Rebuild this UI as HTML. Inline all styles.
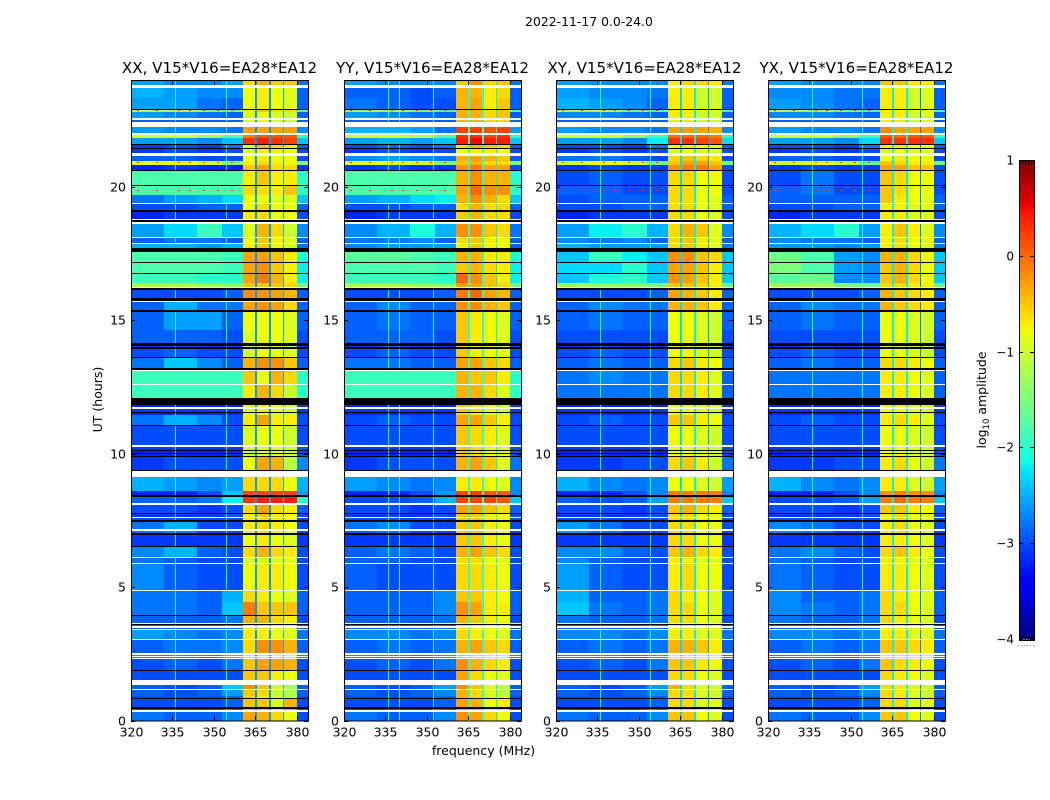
<!DOCTYPE html>
<html lang="en">
<head>
<meta charset="utf-8">
<title>2022-11-17 spectrogram</title>
<style>
html,body{margin:0;padding:0;background:#fff;}
svg{display:block;font-family:"DejaVu Sans","Liberation Sans",sans-serif;fill:#000;}
</style>
</head>
<body>
<svg id="chart" xmlns="http://www.w3.org/2000/svg" width="1050" height="800" viewBox="0 0 1050 800">
<text x="589" y="26" font-size="12.400" text-anchor="middle">2022-11-17 0.0-24.0</text>
<text x="483.500" y="755" font-size="12.500" text-anchor="middle">frequency (MHz)</text>
<text x="0" y="0" transform="translate(102,399.500) rotate(-90)" font-size="12.500" text-anchor="middle">UT (hours)</text>
<text x="0" y="0" transform="translate(986,400) rotate(-90)" font-size="12.500" text-anchor="middle">log<tspan font-size="8.500" dy="3">10</tspan><tspan dy="-3"> amplitude</tspan></text>
<g id="plots"></g>
<g id="cbar"></g>
</svg>
<script>
const panelTitles = ["XX, V15*V16=EA28*EA12","YY, V15*V16=EA28*EA12","XY, V15*V16=EA28*EA12","YX, V15*V16=EA28*EA12"];
const freqTicks = [320,335,350,365,380];
const utTicks = [0,5,10,15,20];
const cbarTicks = [1,0,-1,-2,-3,-4];
const freqEdges = [320,332,344,353,360.5,365,365.5,370,370.5,375,375.5,380,384];
const utEdges = [24,23.81,23.71,23.32,22.93,22.89,22.81,22.57,22.5,22.43,22.25,22.01,21.95,21.83,21.6,21.55,21.45,21.4,21.27,21.15,20.98,20.83,20.63,20.58,20.05,20.01,19.69,19.4,19.35,19.12,19.04,18.81,18.75,18.67,18.62,18.12,18.07,17.91,17.86,17.7,17.57,17.19,17.15,16.78,16.74,16.38,16.25,16.2,16.13,15.82,15.72,15.68,15.38,15.3,14.63,14.13,14.05,13.99,13.91,13.63,13.58,13.19,13.15,13.11,12.6,12.56,12.07,11.82,11.73,11.68,11.57,11.53,11.46,11.43,11.07,11.03,10.32,10.25,10.13,10.09,10.04,10,9.92,9.89,9.39,9.35,9.13,8.6,8.45,8.39,8.14,8.09,7.79,7.74,7.62,7.59,7.51,7.44,7.16,7.11,7.01,6.96,6.55,6.5,6.12,6.08,5.9,5.86,4.89,4.86,4.44,3.95,3.92,3.66,3.62,3.58,3.53,3.48,3.44,3.39,3.04,3,2.52,2.47,2.43,2.39,2.36,2.32,1.9,1.85,1.52,1.33,1.18,1.15,.93,.9,.83,.8,.5,.44,.4,.31,0];
const rowFlags = "dwddkddwdwdwddkdkdwdddkdkddwdkdwkwdwdwdkdkdkddwkdkwdkddkdkdkdkwdwdkdwdkdkdkdwdkdkdkdkwddkdwdkdwdkdwdkdkdwdwdwddkdwkdwdwdwdwdwdwdkdwdwdwdkdkdwd";
const xxValues = [
[-2.6,-2.7,-2.7,-2.6,-.6,-.4,-.5,-.5,-2.8],[-2.5,-2.6,-2.7,-2.7,-.8,-.7,-.8,-.9,-2.9],[-2.6,-2.6,-2.8,-2.9,-.8,-.7,-.8,-.9,-2.9],[-1.2,-1.2,-1.5,-1.6,-.7,-.5,-.6,-.6,-1.8],[-2.6,-2.7,-2.8,-2.9,-.9,-.8,-.9,-1,-2.9],
[-2.9,-2.9,-2.9,-2.9,-.9,-.8,-.9,-1,-2.9],[-2.6,-2.7,-2.7,-2.8,-.3,-.3,-.3,-.3,-2.7],[-1,-1,-1.3,-1.8,-.1,.1,.1,.1,-2],[-2.6,-2.6,-2.7,-2.4,.3,.4,.3,.2,-2.4],[-3.1,-3,-3.1,-2.8,-.8,-.5,-.6,-.7,-2.9],
[-3.1,-3,-3.1,-3,-.9,-.7,-.7,-.8,-3],[-2.9,-2.9,-3,-3,-.8,-.7,-.8,-.8,-3],[-.9,-.8,-1,-1.5,-.7,-.6,-.7,-.8,-1.5],[-3.2,-3.1,-3.2,-3.2,-.5,-.3,-.6,-.6,-3.1],[-1.8,-1.8,-1.8,-1.8,-.7,-.5,-.7,-.7,-2],
[-1.8,-1.8,-1.8,-1.8,-.6,-.6,-.7,-.5,-2],[-2.8,-2.6,-2.5,-2.3,-.8,-.8,-.9,-.9,-2.4],[-3,-3,-2.9,-2.9,-.8,-.6,-.8,-.8,-2.9],[-3.2,-3.1,-3.1,-3.1,-.7,-.6,-.8,-.8,-3],[-2.6,-2.3,-1.9,-2.4,-.9,-.4,-.6,-1,-2.7],
[-2.9,-2.8,-2.8,-2.9,-.8,-.5,-.7,-.9,-2.9],[-2.5,-2.5,-2.6,-2.5,-.7,-.5,-.7,-.9,-2.8],[-1.8,-1.8,-1.8,-1.9,-.3,-.3,-.5,-.7,-2.1],[-1.8,-1.8,-1.8,-1.9,-.3,-.2,-.5,-.7,-2.2],[-1.9,-1.9,-2,-2,-.3,-.1,-.4,-.7,-2.2],
[-1.2,-1.2,-1.3,-1.4,-.5,-.5,-.5,-.6,-1.6],[-3,-3,-3,-2.9,-.2,-.2,-.3,-.4,-2.9],[-2.9,-2.5,-2.8,-2.8,-.3,-.2,-.3,-.6,-2.9],[-2.9,-2.6,-2.6,-2.9,-.8,-.8,-.8,-.9,-2.9],[-2.9,-2.9,-2.9,-3,-.9,-.8,-.8,-.9,-3],
[-3.1,-3,-3.1,-3.1,-.9,-.8,-.9,-.9,-3],[-3,-2.9,-3,-3,-.9,-.8,-.8,-.9,-3],[-2.8,-2.4,-2.7,-2.9,-.4,-.2,-.2,-.5,-2.9],[-1.9,-1.9,-1.9,-1.9,-.5,-.8,-.4,-.6,-2],[-1.9,-1.9,-1.9,-1.9,-.7,-.4,-.6,-1,-2],
[-3.2,-3.2,-3.2,-3.2,-.9,-.7,-.8,-1,-3.1],[-3.1,-3.1,-3.1,-3.1,-.9,-.7,-.8,-1,-3.1],[-3.2,-3.2,-3.2,-3.2,-.9,-.8,-.9,-1,-3.1],[-2.8,-2.5,-2.7,-3,-.7,-.3,-.7,-.7,-3],[-3,-3,-3,-3,-.9,-.8,-.8,-1,-3],
[-3.1,-3.1,-3.1,-3.1,-1,-.9,-.9,-1,-3],[-3.2,-3.2,-3.2,-3.2,-1,-.9,-.9,-1,-3],[-3.2,-3.2,-3.2,-3.2,-1,-.9,-.9,-1,-3],[-3.1,-3,-3,-3,-.8,-.3,-.4,-1.1,-2.7],[-2.5,-2.6,-2.7,-2.6,-.6,-.6,-.6,-.8,-2.5],
[-3.2,-3.2,-3,-2.4,.2,.2,.2,.2,-2.6],[-2.9,-2.9,-2.8,-2.2,.3,.4,.4,.4,-2],[-3,-3,-3.1,-3,-.6,-.3,-.6,-.7,-2.9],[-3.1,-3.1,-3.1,-3,-.7,-.5,-.7,-.8,-3],[-3,-3,-3,-3,-.7,-.6,-.7,-.8,-3],
[-2.8,-2.5,-3,-3,-.7,-.6,-.7,-.8,-3],[-2.8,-2.7,-3,-3,-.7,-.6,-.7,-.8,-3],[-3.1,-3.1,-3.1,-3.1,-.8,-.7,-.8,-.9,-3.1],[-2.7,-2.5,-2.9,-3,-.6,-.4,-.6,-.7,-3],[-2.8,-2.9,-3,-3,-.9,-.9,-.9,-.9,-3],
[-2.7,-2.9,-3,-3,-.8,-.7,-.7,-.8,-3],[-2.8,-2.8,-2.9,-2.5,-.6,-.7,-.8,-.9,-2.9],[-2.8,-2.8,-2.9,-2.4,-.1,-.5,-.5,-.5,-2.9],[-2.9,-2.9,-2.9,-2.8,-.4,-.4,-.6,-.7,-3],[-2.9,-2.9,-2.9,-2.8,-.7,-.7,-.8,-.9,-3],
[-2.9,-2.9,-2.9,-2.9,-.7,-.7,-.8,-.9,-3],[-2.6,-2.7,-2.8,-2.7,-.7,-.7,-.8,-.9,-2.8],[-2.9,-2.8,-2.8,-2.7,-.6,-.2,-.2,-.4,-2.9],[-2.7,-2.7,-2.8,-2.4,-.7,-.7,-.8,-.9,-2.7],[-2.7,-2.7,-2.8,-2.4,-.7,-.7,-.8,-.9,-2.7],
[-3,-2.9,-3,-2.8,-.5,-.3,-.3,-.4,-3],[-3,-3,-3,-3,-.5,-.5,-.7,-.8,-3],[-2.9,-3,-2.9,-2.4,-.2,-.5,-1,-1.2,-2.9],[-2.9,-3,-2.9,-2.6,-.5,-.6,-1,-1.2,-2.9],[-3,-3,-3,-2.9,-.6,-.7,-1,-1.1,-3],
[-3,-3,-3,-2.9,-.5,-.5,-.9,-.4,-3],[-3,-3,-3,-2.8,-.5,-.5,-.9,-.3,-3],[-2.8,-2.9,-2.9,-2.7,-.3,-.4,-.6,-.8,-3]];
const yyValues = [
[-2.6,-2.7,-2.7,-2.7,-.5,-.2,-.6,-.5,-2.8],[-2.9,-2.9,-3,-2.9,-.4,-.4,-.7,-.6,-2.9],[-2.8,-2.9,-3,-3,-.4,-.3,-.7,-.5,-2.9],[-1.3,-1.3,-1.5,-1.8,-.4,-.4,-.6,-.5,-1.9],[-2.6,-2.7,-2.8,-2.9,-.4,-.4,-.6,-.5,-2.9],
[-2.9,-2.9,-2.9,-2.9,-.4,-.4,-.6,-.6,-2.9],[-2.5,-2.5,-2.6,-2.8,.2,.2,.1,.2,-2.6],[-1,-1,-1.2,-1.8,.3,.3,.2,.3,-2],[-2.6,-2.5,-2.6,-2.4,.4,.5,.4,.4,-2.4],[-3,-2.9,-3,-2.8,-.6,-.4,-.5,-.6,-2.9],
[-3.1,-3,-3.1,-3,-.8,-.7,-.7,-.8,-3],[-2.7,-2.6,-2.7,-2.8,-.4,-.3,-.4,-.5,-2.9],[-.9,-.9,-1,-1.5,-.5,-.4,-.6,-.6,-1.5],[-3.1,-3,-3.1,-3.1,-.2,-.1,-.3,-.3,-3],[-1.8,-1.8,-1.8,-1.8,-.4,-.2,-.4,-.4,-2],
[-1.8,-1.8,-1.8,-1.8,-.3,0,-.2,-.2,-2],[-2.6,-2.5,-2.3,-2.2,-.4,-.2,-.4,-.6,-2.4],[-3,-3,-2.9,-2.9,-.6,-.4,-.6,-.6,-2.9],[-3.2,-3.1,-3.1,-3.1,-.5,-.4,-.6,-.6,-3],[-2.7,-2.5,-2.1,-2.5,-.2,-.2,-.5,-.6,-2.8],
[-2.8,-2.8,-2.7,-2.9,-.6,-.5,-.7,-.8,-2.9],[-2.7,-2.6,-2.6,-2.6,-.7,-.5,-.7,-.8,-2.9],[-1.7,-1.7,-1.8,-1.9,-.4,-.4,-.7,-.7,-2.1],[-1.8,-1.8,-1.8,-1.9,-.5,-.4,-.6,-.7,-2.2],[-1.9,-1.9,-1.9,-2,0,-.2,-.5,-.7,-2.2],
[-1.2,-1.2,-1.3,-1.4,-.3,-.3,-.5,-.6,-1.6],[-3,-3,-3,-2.9,-.1,0,-.3,-.4,-2.9],[-2.9,-2.7,-2.9,-2.9,-.2,-.2,-.4,-.5,-2.9],[-2.9,-2.8,-2.9,-2.9,-.5,-.7,-.8,-.9,-2.9],[-2.9,-2.9,-2.9,-3,-.5,-.7,-.8,-.9,-3],
[-3.1,-3,-3.1,-3.1,-.5,-.8,-.9,-.9,-3],[-3,-2.9,-3,-3,-.5,-.7,-.8,-.9,-3],[-2.8,-2.8,-2.9,-2.9,-.3,-.3,-.5,-.6,-2.9],[-1.9,-1.9,-1.9,-1.9,-.4,-.5,-.5,-.7,-2],[-1.9,-1.9,-1.9,-1.9,-.4,-.4,-.6,-.9,-2],
[-3.2,-3.2,-3.2,-3.2,-.5,-.6,-.8,-1,-3.1],[-3.1,-3.1,-3.1,-3.1,-.5,-.6,-.8,-1,-3.1],[-3.2,-3.2,-3.2,-3.2,-.6,-.7,-.9,-1,-3.1],[-3,-2.9,-3,-3,-.3,-.3,-.5,-.7,-3],[-3,-3,-3,-3,-.5,-.6,-.7,-.9,-3],
[-3.1,-3.1,-3.1,-3.1,-.5,-.6,-.8,-.9,-3],[-3.2,-3.2,-3.2,-3.2,-.5,-.6,-.8,-.9,-3],[-3.2,-3.2,-3.2,-3.2,-.5,-.6,-.8,-.9,-3],[-3.1,-3,-3,-3,-.4,-.3,-.5,-.9,-2.8],[-2.6,-2.7,-2.8,-2.7,-.7,-.7,-.8,-.9,-2.7],
[-3.2,-3.2,-3,-2.6,.2,.2,.1,.1,-2.7],[-3,-3,-2.9,-2.5,.2,.2,.2,.1,-2.4],[-3,-3,-3.1,-3,-.3,-.3,-.5,-.6,-2.9],[-3.1,-3.1,-3.1,-3,-.5,-.5,-.7,-.8,-3],[-3,-3,-3,-3,-.5,-.5,-.7,-.8,-3],
[-2.8,-2.7,-3,-3,-.5,-.5,-.7,-.8,-3],[-2.9,-2.8,-3,-3,-.5,-.5,-.7,-.8,-3],[-3.1,-3.1,-3.1,-3.1,-.5,-.5,-.7,-.8,-3.1],[-2.9,-2.8,-2.9,-3,-.4,-.3,-.5,-.6,-3],[-2.9,-2.9,-3,-3,-.6,-.6,-.8,-.9,-3],
[-2.9,-3,-3,-3,-.6,-.6,-.7,-.8,-3],[-2.9,-2.9,-2.9,-2.7,-.5,-.5,-.7,-.8,-2.9],[-2.9,-2.9,-2.9,-2.7,-.2,-.3,-.7,-.7,-2.9],[-2.9,-2.9,-2.9,-2.8,-.4,-.5,-.7,-.8,-3],[-2.9,-2.9,-2.9,-2.8,-.6,-.7,-.8,-.9,-3],
[-2.9,-2.9,-2.9,-2.9,-.6,-.7,-.8,-.9,-3],[-2.7,-2.7,-2.8,-2.7,-.6,-.7,-.8,-.9,-2.8],[-2.9,-2.8,-2.9,-2.8,-.4,-.3,-.5,-.6,-2.9],[-2.7,-2.7,-2.8,-2.6,-.5,-.6,-.8,-.9,-2.7],[-2.7,-2.7,-2.8,-2.6,-.5,-.6,-.8,-.9,-2.7],
[-3,-2.9,-3,-2.8,-.2,-.4,-.6,-.7,-3],[-3,-3,-3,-3,-.3,-.6,-.8,-.9,-3],[-2.9,-3,-2.9,-2.6,-.2,-.5,-.9,-1.1,-2.9],[-2.9,-3,-2.9,-2.7,-.4,-.6,-.9,-1.1,-2.9],[-3,-3,-3,-2.9,-.4,-.6,-.9,-1,-3],
[-3,-3,-3,-2.9,-.3,-.4,-.8,-.7,-3],[-3,-3,-3,-2.8,-.3,-.4,-.8,-.6,-3],[-2.8,-2.9,-2.9,-2.7,-.2,-.3,-.6,-.8,-3]];
const xyValues = [
[-2.6,-2.7,-2.7,-2.7,-.7,-.6,-.6,-.7,-2.8],[-2.6,-2.7,-2.7,-2.8,-.7,-.7,-1,-1,-2.9],[-2.5,-2.6,-2.7,-2.9,-.7,-.7,-1,-1,-2.9],[-1.2,-1.2,-1.6,-1.8,-.7,-.7,-.8,-.9,-1.9],[-2.7,-2.7,-2.8,-2.9,-.7,-.7,-1,-1,-2.9],
[-2.9,-2.9,-2.9,-2.9,-.7,-.7,-1,-1,-2.9],[-2.6,-2.7,-2.7,-2.8,-.3,-.3,-.3,-.4,-2.7],[-1,-1,-1.4,-1.9,0,0,0,-.1,-2],[-2.6,-2.6,-2.7,-2.2,.3,.3,.2,.1,-2.3],[-3,-3,-3.1,-2.8,-.8,-.7,-.8,-.9,-2.9],
[-3.1,-3,-3.1,-3,-.9,-.8,-.9,-1,-3],[-2.8,-2.8,-2.9,-3,-.6,-.5,-.6,-.7,-3],[-1,-.8,-1,-1.6,-.5,-.3,-.3,-.5,-1.6],[-3.1,-3,-3.1,-3.1,-.2,-.1,-.1,-.3,-3],[-3,-2.9,-3,-3,-.6,-.6,-.8,-.8,-3],
[-2.9,-2.9,-3,-3,-.6,-.6,-.8,-.8,-3],[-3,-2.9,-2.9,-2.9,-.6,-.6,-.8,-.9,-2.9],[-3,-3,-2.9,-2.9,-.6,-.6,-.8,-.9,-2.9],[-3.2,-3.1,-3.1,-3.1,-.6,-.6,-.8,-.9,-3],[-2.6,-2.2,-2,-2.5,-.6,-.4,-.5,-.9,-2.7],
[-2.7,-2.8,-2.7,-2.9,-.6,-.5,-.7,-.9,-2.9],[-2.5,-2.6,-2.6,-2.6,-.6,-.5,-.7,-.9,-2.8],[-2.4,-1.9,-2.2,-2.4,-.2,-.2,-.5,-.6,-2.4],[-2.3,-2.3,-2,-2.4,-.3,-.3,-.5,-.7,-2.4],[-2.4,-2.1,-2,-2.4,-.2,-.3,-.5,-.7,-2.4],
[-1.3,-1.3,-1.4,-1.5,-.5,-.5,-.6,-.7,-1.7],[-3,-3,-3,-2.9,-.3,-.4,-.5,-.7,-2.9],[-2.9,-2.7,-2.8,-2.8,-.4,-.4,-.5,-.7,-2.9],[-2.9,-2.8,-2.9,-2.9,-.8,-.8,-.9,-1,-2.9],[-3,-3,-3,-3,-.8,-.8,-.9,-1,-3],
[-3.1,-3,-3.1,-3.1,-.8,-.9,-1,-1,-3],[-3,-2.9,-3,-3,-.8,-.8,-.9,-1,-3],[-2.9,-2.8,-2.9,-2.9,-.6,-.5,-.7,-.8,-2.9],[-2.8,-2.7,-2.8,-2.8,-.6,-.6,-.7,-.9,-2.9],[-2.8,-2.8,-2.8,-2.8,-.6,-.6,-.7,-.9,-2.9],
[-3.2,-3.2,-3.2,-3.2,-.8,-.8,-.9,-1,-3.1],[-3.1,-3.1,-3.1,-3.1,-.8,-.8,-.9,-1,-3.1],[-3.2,-3.2,-3.2,-3.2,-.8,-.8,-.9,-1,-3.1],[-3,-2.9,-3,-3,-.5,-.5,-.7,-.8,-3],[-3,-3,-3,-3,-.8,-.8,-.9,-1,-3],
[-3.1,-3.1,-3.1,-3.1,-.8,-.8,-.9,-1,-3],[-3.2,-3.2,-3.2,-3.2,-.8,-.8,-.9,-1,-3],[-3.2,-3.2,-3.2,-3.2,-.8,-.8,-.9,-1,-3],[-3.1,-3.1,-3,-3,-.6,-.5,-.7,-1,-2.8],[-2.5,-2.7,-2.8,-2.7,-.8,-.8,-.9,-1,-2.6],
[-3.2,-3.2,-3,-2.7,-.1,-.1,-.1,-.1,-2.7],[-2.9,-3,-2.9,-2.6,-.1,-.1,-.1,-.1,-2.4],[-3,-3,-3.1,-3,-.5,-.4,-.6,-.7,-2.9],[-3.1,-3.1,-3.1,-3,-.6,-.6,-.8,-.8,-3],[-3,-3,-3,-3,-.6,-.6,-.8,-.8,-3],
[-2.6,-2.8,-3,-3,-.6,-.6,-.8,-.8,-3],[-2.6,-2.8,-3,-3,-.6,-.6,-.8,-.8,-3],[-3.1,-3.1,-3.1,-3.1,-.6,-.6,-.8,-.8,-3.1],[-2.7,-2.7,-2.9,-3,-.5,-.4,-.6,-.7,-3],[-2.7,-2.9,-3,-3,-.7,-.7,-.9,-.9,-3],
[-2.6,-2.9,-3,-3,-.7,-.6,-.8,-.8,-3],[-2.5,-2.9,-2.9,-2.8,-.6,-.7,-.8,-.9,-2.9],[-2.4,-2.8,-2.9,-2.8,-.6,-.6,-.8,-.9,-2.9],[-2.8,-2.9,-2.9,-2.8,-.6,-.6,-.8,-.9,-3],[-2.9,-2.9,-2.9,-2.8,-.7,-.7,-.9,-.9,-3],
[-2.9,-2.9,-2.9,-2.9,-.7,-.7,-.9,-.9,-3],[-2.7,-2.7,-2.8,-2.7,-.7,-.7,-.9,-.9,-2.8],[-2.9,-2.8,-2.9,-2.8,-.4,-.4,-.5,-.7,-2.9],[-2.7,-2.7,-2.8,-2.6,-.7,-.7,-.9,-.9,-2.7],[-2.7,-2.7,-2.8,-2.6,-.7,-.7,-.9,-.9,-2.7],
[-3,-2.9,-3,-2.8,-.5,-.5,-.7,-.8,-3],[-3,-3,-3,-3,-.6,-.6,-.8,-.9,-3],[-2.9,-3,-2.9,-2.6,-.4,-.6,-.9,-1,-2.9],[-2.9,-3,-2.9,-2.7,-.6,-.6,-.9,-1,-2.9],[-3,-3,-3,-2.9,-.6,-.7,-.9,-1,-3],
[-3,-3,-3,-2.9,-.6,-.6,-.9,-.9,-3],[-3,-3,-3,-2.8,-.6,-.6,-.9,-.9,-3],[-2.8,-2.9,-2.9,-2.7,-.5,-.5,-.8,-.9,-3]];
const yxValues = [
[-2.6,-2.7,-2.7,-2.7,-.5,-.5,-.7,-.7,-2.8],[-2.7,-2.7,-2.8,-2.8,-.7,-.7,-1,-.9,-2.9],[-2.6,-2.7,-2.8,-2.9,-.7,-.7,-1,-.9,-2.9],[-1.2,-1.3,-1.6,-1.8,-.7,-.7,-.9,-.9,-1.9],[-2.7,-2.7,-2.8,-2.9,-.7,-.7,-1,-.9,-2.9],
[-2.9,-2.9,-2.9,-2.9,-.7,-.7,-1,-.9,-2.9],[-2.6,-2.7,-2.7,-2.8,-.2,-.3,-.3,-.3,-2.7],[-1,-1,-1.4,-1.9,.1,0,.1,.1,-2],[-2.6,-2.6,-2.7,-2.3,.3,.3,.3,.3,-2.4],[-3,-3,-3.1,-2.8,-.7,-.7,-.8,-.8,-2.9],
[-3.1,-3,-3.1,-3,-.9,-.8,-.9,-.9,-3],[-2.9,-2.9,-3,-3,-.8,-.7,-.8,-.8,-3],[-1,-.9,-1.1,-1.7,-.5,-.6,-.7,-.7,-1.6],[-3.1,-3,-3.1,-3.1,-.3,-.3,-.5,-.5,-3],[-3,-2.8,-3,-3,-.5,-.6,-.8,-.8,-3],
[-2.9,-2.8,-3,-3,-.5,-.6,-.8,-.8,-3],[-2.9,-2.9,-2.9,-2.9,-.5,-.7,-.8,-.9,-2.9],[-3,-3,-2.9,-2.9,-.7,-.7,-.9,-.9,-2.9],[-3.2,-3.1,-3.1,-3.1,-.7,-.7,-.9,-.9,-3],[-2.5,-2.3,-2,-2.6,-.7,-.5,-.7,-.9,-2.7],
[-2.7,-2.8,-2.8,-2.9,-.7,-.6,-.8,-.9,-2.9],[-2.6,-2.6,-2.7,-2.6,-.7,-.6,-.8,-.9,-2.8],[-1.6,-1.8,-2.6,-2.7,-.4,-.4,-.6,-.8,-2.4],[-1.5,-1.8,-2.6,-2.7,-.5,-.4,-.6,-.8,-2.4],[-1.7,-1.6,-2.7,-2.7,-.5,-.4,-.6,-.8,-2.4],
[-1.3,-1.3,-1.5,-1.6,-.6,-.6,-.7,-.7,-1.7],[-3,-3,-3,-2.9,-.4,-.5,-.6,-.7,-2.9],[-2.9,-2.7,-2.8,-2.8,-.4,-.5,-.6,-.7,-2.9],[-2.9,-2.8,-2.9,-2.9,-.8,-.8,-.9,-1,-2.9],[-3,-3,-3,-3,-.8,-.8,-.9,-1,-3],
[-3.1,-3,-3.1,-3.1,-.8,-.9,-1,-1,-3],[-3,-2.9,-3,-3,-.8,-.8,-.9,-1,-3],[-2.9,-2.8,-2.9,-2.9,-.6,-.6,-.7,-.8,-2.9],[-2.8,-2.8,-2.8,-2.8,-.7,-.7,-.8,-.9,-2.9],[-2.8,-2.8,-2.8,-2.8,-.7,-.7,-.8,-.9,-2.9],
[-3.2,-3.2,-3.2,-3.2,-.8,-.8,-.9,-1,-3.1],[-3.1,-3.1,-3.1,-3.1,-.8,-.8,-.9,-1,-3.1],[-3.2,-3.2,-3.2,-3.2,-.8,-.8,-.9,-1,-3.1],[-3,-2.9,-3,-3,-.7,-.6,-.7,-.9,-3],[-3,-3,-3,-3,-.8,-.8,-.9,-1,-3],
[-3.1,-3.1,-3.1,-3.1,-.8,-.8,-.9,-1,-3],[-3.2,-3.2,-3.2,-3.2,-.8,-.8,-.9,-1,-3],[-3.2,-3.2,-3.2,-3.2,-.8,-.8,-.9,-1,-3],[-3.1,-3.1,-3,-3,-.7,-.6,-.8,-1,-2.8],[-2.5,-2.7,-2.8,-2.7,-.7,-.7,-.9,-1,-2.6],
[-3.2,-3.2,-3,-2.7,-.2,-.1,-.2,-.2,-2.7],[-3,-3,-2.9,-2.6,-.1,0,-.1,-.1,-2.4],[-3,-3,-3.1,-3,-.5,-.5,-.7,-.8,-2.9],[-3.1,-3.1,-3.1,-3,-.7,-.6,-.8,-.9,-3],[-3,-3,-3,-3,-.7,-.6,-.8,-.9,-3],
[-2.7,-2.8,-3,-3,-.7,-.6,-.8,-.9,-3],[-2.7,-2.8,-3,-3,-.7,-.6,-.8,-.9,-3],[-3.1,-3.1,-3.1,-3.1,-.7,-.7,-.8,-.9,-3.1],[-2.8,-2.7,-2.9,-3,-.6,-.5,-.7,-.8,-3],[-2.8,-2.9,-3,-3,-.7,-.7,-.9,-.9,-3],
[-2.8,-2.9,-3,-3,-.7,-.7,-.8,-.9,-3],[-2.7,-2.9,-2.9,-2.8,-.6,-.7,-.8,-.9,-2.9],[-2.7,-2.8,-2.9,-2.8,-.6,-.6,-.8,-.9,-2.9],[-2.8,-2.9,-2.9,-2.8,-.6,-.7,-.8,-.9,-3],[-2.9,-2.9,-2.9,-2.8,-.7,-.7,-.9,-.9,-3],
[-2.9,-2.9,-2.9,-2.9,-.7,-.7,-.9,-.9,-3],[-2.7,-2.7,-2.8,-2.7,-.7,-.7,-.9,-.9,-2.8],[-2.9,-2.8,-2.9,-2.8,-.5,-.5,-.6,-.7,-2.9],[-2.7,-2.7,-2.8,-2.6,-.7,-.7,-.9,-.9,-2.7],[-2.7,-2.7,-2.8,-2.6,-.7,-.7,-.9,-.9,-2.7],
[-3,-2.9,-3,-2.8,-.5,-.6,-.7,-.8,-3],[-3,-3,-3,-3,-.6,-.7,-.8,-.9,-3],[-2.9,-3,-2.9,-2.6,-.6,-.7,-.9,-1,-2.9],[-2.9,-3,-2.9,-2.7,-.6,-.7,-.9,-1,-2.9],[-3,-3,-3,-2.9,-.6,-.7,-.9,-1,-3],
[-3,-3,-3,-2.9,-.6,-.6,-.9,-.9,-3],[-3,-3,-3,-2.8,-.6,-.6,-.9,-.9,-3],[-2.8,-2.9,-2.9,-2.7,-.5,-.5,-.8,-.9,-3]];
const xxGaps = [-2.6,-2.6,-2.5];
const yyGaps = [-2,-2,-2.2];
const xyGaps = [-2.3,-2.2,-2.6];
const yxGaps = [-2.2,-2.2,-2.8];
const xxChannels = [336,354.4];
const yyChannels = [336,340,352];
const xyChannels = [336,354];
const yxChannels = [336,354];
const channelLevel = -2.1;
const spikeHours = [22.86,20.92,19.88];
const spikeFreqs = [322,329,337,341,346,351,356];
const spikeLevel = .3;

const NS = "http://www.w3.org/2000/svg";
const plotTop = 80, plotBottom = 720.5, plotWidth = 177;
const panelLefts = [131,344,556,768];
const panelMatrices = [xxValues,yyValues,xyValues,yxValues];
const panelGaps = [xxGaps,yyGaps,xyGaps,yxGaps];
const panelChannels = [xxChannels,yyChannels,xyChannels,yxChannels];
const panelKeys = ["xx","yy","xy","yx"];

function xScale(f,left){return left+(f-320)/64*plotWidth;}
function yScale(h){return plotBottom-h/24*(plotBottom-plotTop);}
function cbarY(v){return 160+(1-v)/5*479;}
function ramp(t,pts){
  for(let i=1;i<pts.length;i++){
    if(t<=pts[i][0]){
      const a=pts[i-1],b=pts[i];
      return a[1]+(b[1]-a[1])*(t-a[0])/(b[0]-a[0]);
    }
  }
  return pts[pts.length-1][1];
}
function jet(v){
  const t=Math.max(0,Math.min(1,(v+4)/5));
  const r=ramp(t,[[0,0],[.35,0],[.66,1],[.89,1],[1,.5]]);
  const g=ramp(t,[[0,0],[.125,0],[.375,1],[.64,1],[.91,0],[1,0]]);
  const b=ramp(t,[[0,.5],[.11,1],[.34,1],[.65,0],[1,0]]);
  return "rgb("+Math.round(r*255)+","+Math.round(g*255)+","+Math.round(b*255)+")";
}
function svgEl(tag,attrs,parent){
  const e=document.createElementNS(NS,tag);
  for(const k in attrs)e.setAttribute(k,attrs[k]);
  parent.appendChild(e);
  return e;
}
function px(v){return Math.round(v);}

const plots=document.getElementById("plots");
panelTitles.forEach(function(title,p){
  const left=panelLefts[p], key=panelKeys[p], matrix=panelMatrices[p], gaps=panelGaps[p], channels=panelChannels[p];
  const right=left+plotWidth;
  const g=svgEl("g",{},plots);
  
  
  const heat=svgEl("g",{"shape-rendering":"crispEdges"},g);
  
  
  let dataRow=0;
  for(let r=0;r<rowFlags.length;r++){
    const flag=rowFlags[r];
    const y0=px(yScale(utEdges[r])), y1=Math.max(y0+1,px(yScale(utEdges[r+1])));
    if(flag!=="d"){
      const band=svgEl("rect",{x:px(left),y:y0,width:px(right)-px(left),height:y1-y0,fill:flag==="k"?"#000":"#fff"},heat);
      
      
      continue;
    }
    const vals=matrix[dataRow++];
    let vi=0;
    for(let c=0;c<freqEdges.length-1;c++){
      const x0=px(xScale(freqEdges[c],left)), x1=px(xScale(freqEdges[c+1],left));
      const isGap=(c===5||c===7||c===9);
      const v=isGap?gaps[(c-5)/2]:vals[vi++];
      const cell=svgEl("rect",{x:x0,y:y0,width:Math.max(1,x1-x0),height:y1-y0,fill:jet(v)},heat);
      
      
    }
    channels.forEach(function(f){
      const colIndex=freqEdges.findIndex(function(e,i){return f>=e&&f<freqEdges[i+1];});
      if(vals[colIndex]<channelLevel-.4){
        const line=svgEl("rect",{x:px(xScale(f,left)),y:y0,width:1,height:y1-y0,fill:jet(channelLevel)},heat);
        
        
      }
    });
  }
  spikeHours.forEach(function(h){
    spikeFreqs.forEach(function(f){
      const spike=svgEl("rect",{x:px(xScale(f,left)),y:px(yScale(h)),width:2,height:1,fill:jet(spikeLevel)},heat);
      
      
    });
  });
  const frame=svgEl("rect",{x:px(left)+.5,y:plotTop+.5,width:px(right)-px(left),height:plotBottom-plotTop,fill:"none",stroke:"#000","stroke-width":1},g);
  
  
  const t=svgEl("text",{x:left+plotWidth/2,y:73,"font-size":"15.100","text-anchor":"middle"},g);
  t.textContent=title;
  
  
  freqTicks.forEach(function(f){
    const x=px(xScale(f,left))+.5;
    svgEl("path",{d:"M"+x+" 720v-4M"+x+" 81v4",stroke:"#000","stroke-width":1,fill:"none"},g);
    const l=svgEl("text",{x:x,y:736.5,"font-size":"12.500","text-anchor":"middle"},g);
    l.textContent=f;
    
    
  });
  utTicks.forEach(function(h){
    const y=px(yScale(h))+.5;
    svgEl("path",{d:"M"+px(left)+" "+y+"h4M"+px(right)+" "+y+"h-4",stroke:"#000","stroke-width":1,fill:"none"},g);
    const l=svgEl("text",{x:left-5,y:y+4,"font-size":"12.500","text-anchor":"end"},g);
    l.textContent=h;
    
    
  });
});

const cbar=document.getElementById("cbar");
const cbarSteps=240;
const strip=svgEl("g",{"shape-rendering":"crispEdges"},cbar);
for(let i=0;i<cbarSteps;i++){
  const v0=1-5*i/cbarSteps, v1=1-5*(i+1)/cbarSteps;
  svgEl("rect",{x:1019,y:cbarY(v0),width:15,height:cbarY(v1)-cbarY(v0)+.5,fill:jet((v0+v1)/2)},strip);
}
svgEl("rect",{x:1019.5,y:160.5,width:15,height:480,fill:"none",stroke:"#000","stroke-width":1},cbar);
cbarTicks.forEach(function(v){
  const y=px(cbarY(v))+.5;
  svgEl("path",{d:"M1019 "+y+"h4M1034 "+y+"h-4",stroke:"#000","stroke-width":1,fill:"none"},cbar);
  const l=svgEl("text",{x:1014,y:y+4,"font-size":"12","text-anchor":"end"},cbar);
  l.textContent=String(v).replace("-","\u2212");
  
  
});
[1022,1025,1028,1031].forEach(function(x){
  svgEl("path",{d:"M"+(x+.5)+" 161v4M"+(x+.5)+" 640v-4",stroke:"#000","stroke-width":1,fill:"none"},cbar);
});
const dots=svgEl("path",{d:"M1018 645.500H1035",stroke:"#888","stroke-width":1,"stroke-dasharray":"1 2",fill:"none"},cbar);


</script>
</body>
</html>
